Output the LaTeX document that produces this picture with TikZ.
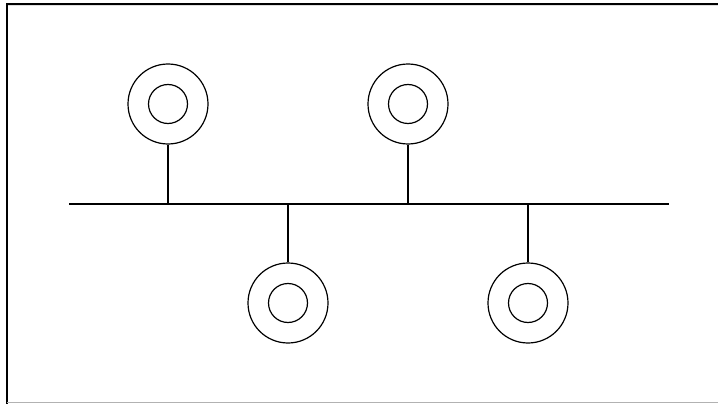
\documentclass[tikz,border=0pt]{standalone}
\begin{document}
\begin{tikzpicture}[x=1pt,y=-1pt,
  wire/.style={draw=black,line width=1.2pt},
  ring/.style={circle,draw=black,line width=1.2pt,minimum size=80pt,inner sep=0pt},
  core/.style={circle,draw=black,line width=1.2pt,minimum size=39pt,inner sep=0pt}]
\useasboundingbox (0,0) rectangle (718,404);
% frame
\draw[black,line width=2pt] (7,404) -- (7,4) -- (718,4);
\draw[gray!60,line width=1.5pt] (7,402.5) -- (718,402.5);
\draw[gray!25,line width=1pt] (8,6) -- (718,6);
% bus
\coordinate (busL) at (69,204);
\coordinate (busR) at (669,204);
\draw[wire] (busL) -- (busR);
% stations
\node[ring] (r1) at (168,104) {};
\node[core] (c1) at (168,104) {};
\node[ring] (r2) at (408,104) {};
\node[core] (c2) at (408,104) {};
\node[ring] (r3) at (288,303) {};
\node[core] (c3) at (288,303) {};
\node[ring] (r4) at (528,303) {};
\node[core] (c4) at (528,303) {};
\coordinate (t1) at (168,204);
\coordinate (t2) at (408,204);
\coordinate (t3) at (288,204);
\coordinate (t4) at (528,204);
\draw[wire] (r1.south) -- (t1);
\draw[wire] (r2.south) -- (t2);
\draw[wire] (r3.north) -- (t3);
\draw[wire] (r4.north) -- (t4);
\end{tikzpicture}
\end{document}
